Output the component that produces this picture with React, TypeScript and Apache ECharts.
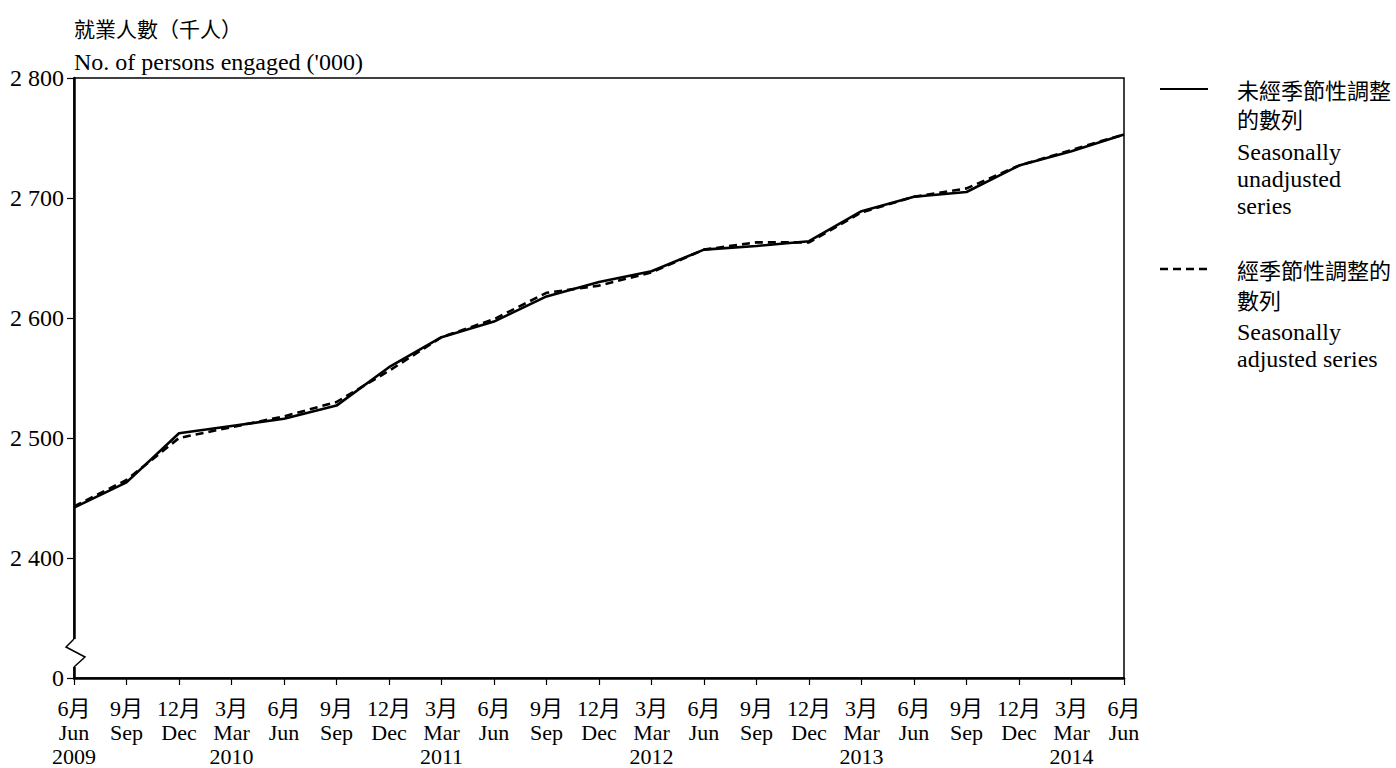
import React, { useEffect, useRef } from "react";
import * as echarts from "echarts";

const monthsZh = ["6月", "9月", "12月", "3月", "6月", "9月", "12月", "3月", "6月", "9月", "12月", "3月", "6月", "9月", "12月", "3月", "6月", "9月", "12月", "3月", "6月"];
const monthsEn = ["Jun", "Sep", "Dec", "Mar", "Jun", "Sep", "Dec", "Mar", "Jun", "Sep", "Dec", "Mar", "Jun", "Sep", "Dec", "Mar", "Jun", "Sep", "Dec", "Mar", "Jun"];
const yearLabels = ["2009", "", "", "2010", "", "", "", "2011", "", "", "", "2012", "", "", "", "2013", "", "", "", "2014", ""];

const unadjusted = [2442, 2463, 2504, 2510, 2516, 2527, 2559, 2584, 2597, 2618, 2630, 2639, 2657, 2660, 2664, 2689, 2701, 2705, 2727, 2739, 2753];
const adjusted = [2443, 2465, 2500, 2509, 2518, 2530, 2556, 2584, 2599, 2621, 2627, 2638, 2657, 2663, 2663, 2688, 2701, 2708, 2727, 2740, 2753];

const yMin = 2300;
const yMax = 2800;
const yStep = 100;

const titleZh = "就業人數（千人）";
const titleEn = "No. of persons engaged ('000)";
const legend1 = ["未經季節性調整", "的數列", "Seasonally", "unadjusted", "series"];
const legend2 = ["經季節性調整的", "數列", "Seasonally", "adjusted series"];

const SERIF = "'Liberation Serif', 'Times New Roman', serif";
const CJK = "'Noto Sans CJK TC', 'Noto Sans CJK SC', sans-serif";
const MIXED = "'Liberation Serif', 'Noto Sans CJK TC', serif";

const GRID_LEFT = 74;
const GRID_RIGHT_X = 1124;
const GRID_TOP = 78;
const GRID_BOTTOM_Y = 682;

function fmtY(v: number) {
  if (v === yMin) return "0";
  return String(v).replace(/\B(?=(\d{3})+(?!\d))/g, " ");
}

export default function App() {
  const ref = useRef<HTMLDivElement>(null);
  useEffect(() => {
    if (!ref.current) return;
    const chart = echarts.init(ref.current, null, { renderer: "svg" });
    const categories = monthsZh.map((m, i) =>
      [m, monthsEn[i], yearLabels[i]].filter((s) => s !== "").join("\n")
    );
    const cjkText = (text: string, x: number, y: number, size = 22) => ({
      type: "text",
      x,
      y,
      z: 100,
      style: { text, fontFamily: CJK, fontSize: size, fill: "#000", textVerticalAlign: "middle", textAlign: "left" },
    });
    const serifText = (text: string, x: number, y: number, size = 24) => ({
      type: "text",
      x,
      y,
      z: 100,
      style: { text, fontFamily: SERIF, fontSize: size, fill: "#000", textVerticalAlign: "middle", textAlign: "left" },
    });
    const LX = 1237;
    const option: any = {
      animation: false,
      backgroundColor: "#fff",
      grid: {
        left: GRID_LEFT,
        right: 1396 - GRID_RIGHT_X,
        top: GRID_TOP,
        bottom: 768 - GRID_BOTTOM_Y,
        show: true,
        borderColor: "#000",
        borderWidth: 1.5,
        containLabel: false,
      },
      xAxis: {
        type: "category",
        data: categories,
        boundaryGap: false,
        axisLine: { show: true, lineStyle: { color: "#000", width: 2.5 } },
        axisTick: { show: true, length: 7, lineStyle: { color: "#000", width: 1.2 }, alignWithLabel: true },
        axisLabel: {
          interval: 0,
          margin: 18,
          color: "#000",
          fontFamily: MIXED,
          fontSize: 22,
          lineHeight: 24,
        },
        splitLine: { show: false },
      },
      yAxis: {
        type: "value",
        min: yMin,
        max: yMax,
        interval: yStep,
        axisLine: { show: true, lineStyle: { color: "#000", width: 2.5 } },
        axisTick: { show: true, length: 7, lineStyle: { color: "#000", width: 1.2 } },
        axisLabel: {
          margin: 10,
          color: "#000",
          fontFamily: SERIF,
          fontSize: 24,
          formatter: (v: number) => fmtY(v),
        },
        splitLine: { show: false },
      },
      series: [
        {
          name: "Seasonally unadjusted series",
          type: "line",
          data: unadjusted,
          symbol: "none",
          lineStyle: { color: "#000", width: 2.6, type: "solid" },
          z: 3,
        },
        {
          name: "Seasonally adjusted series",
          type: "line",
          data: adjusted,
          symbol: "none",
          lineStyle: { color: "#000", width: 2.6, type: [8, 5] },
          z: 4,
        },
      ],
      graphic: [
        cjkText(titleZh, 74, 28, 21),
        serifText(titleEn, 74, 62, 24),
        // y-axis break
        {
          type: "rect",
          z: 100,
          shape: { x: GRID_LEFT - 4, y: GRID_BOTTOM_Y - 43, width: 8, height: 28 },
          style: { fill: "#fff" },
        },
        {
          type: "polyline",
          z: 101,
          shape: {
            points: [
              [GRID_LEFT, GRID_BOTTOM_Y - 43],
              [GRID_LEFT - 8, GRID_BOTTOM_Y - 35],
              [GRID_LEFT + 11, GRID_BOTTOM_Y - 25],
              [GRID_LEFT, GRID_BOTTOM_Y - 15],
            ],
          },
          style: { stroke: "#000", lineWidth: 1.5, fill: null },
        },
        // legend
        {
          type: "line",
          z: 100,
          shape: { x1: 1160, y1: 89, x2: 1208, y2: 89 },
          style: { stroke: "#000", lineWidth: 2 },
        },
        cjkText(legend1[0], LX, 89),
        cjkText(legend1[1], LX, 118),
        serifText(legend1[2], LX, 152),
        serifText(legend1[3], LX, 179),
        serifText(legend1[4], LX, 206),
        {
          type: "line",
          z: 100,
          shape: { x1: 1160, y1: 269, x2: 1208, y2: 269 },
          style: { stroke: "#000", lineWidth: 2.5, lineDash: [8, 5] },
        },
        cjkText(legend2[0], LX, 269),
        cjkText(legend2[1], LX, 299),
        serifText(legend2[2], LX, 332),
        serifText(legend2[3], LX, 359),
      ],
    };
    chart.setOption(option);
    return () => chart.dispose();
  }, []);
  return (
    <div
      ref={ref}
      style={{ position: "fixed", left: 0, top: 0, width: 1396, height: 768, background: "#fff" }}
    />
  );
}
